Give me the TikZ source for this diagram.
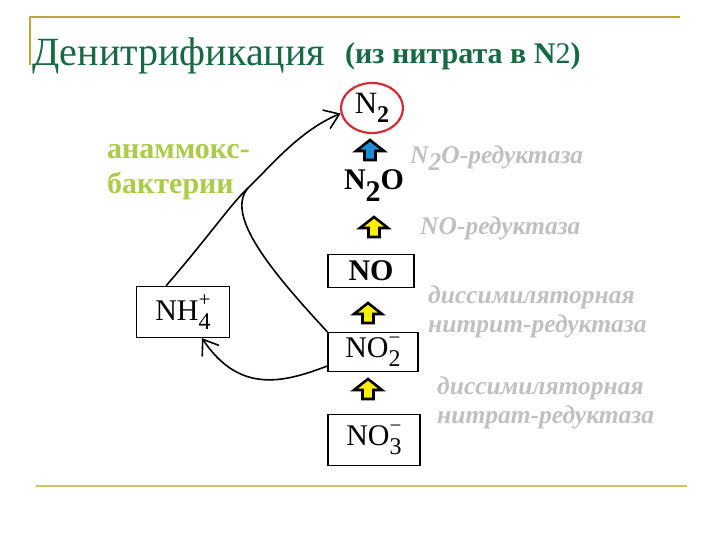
\documentclass[tikz,border=0pt]{standalone}
\usepackage{fontspec}
\setmainfont{Liberation Serif}
\usepackage{graphicx}
\usepackage{tikz}
\usetikzlibrary{arrows.meta,shapes.geometric}
\definecolor{titlegreen}{RGB}{22,105,68}
\definecolor{rulegold}{RGB}{188,168,62}
\definecolor{rulelow}{RGB}{205,195,95}
\definecolor{enzgray}{RGB}{192,192,192}
\definecolor{anagreen}{RGB}{170,204,72}
\definecolor{circred}{RGB}{212,45,55}
\definecolor{arwblue}{RGB}{30,140,210}
\definecolor{arwyellow}{RGB}{250,238,0}
\newcommand{\arw}{-{Straight Barb[length=14pt,width=20pt]}}
\newcommand{\fsz}[1]{\fontsize{#1}{#1}\selectfont}
\newcommand{\ion}[3]{#1\rlap{\raisebox{.45em}{\fsz{21}#3}}\raisebox{-.3em}{\fsz{24}#2}}

\begin{document}
\begin{tikzpicture}[x=1pt,y=-1pt,
  species/.style={draw,line width=1.3pt,inner sep=0pt,font=\fsz{30}},
  enzyme/.style={anchor=west,text=enzgray,font=\fontsize{25.5}{29}\selectfont\bfseries\itshape,
    align=left,inner sep=0pt},
  curve/.style={line width=1.6pt},
  blockup/.pic={\path[pic actions,draw=black,line width=2.6pt,line join=miter]
    (-5.5,10) -- (-5.5,1) -- (-14,1) -- (0,-10) -- (14,1) -- (5.5,1) -- (5.5,10) -- cycle;}]
\useasboundingbox (0,0) rectangle (720,540);
%title and rules
\draw[rulegold,line width=1.5pt] (30,65) -- (30,17) -- (680,17);
\draw[rulelow,line width=2pt] (36,486) -- (687,486);
\node[anchor=base west,inner sep=0pt,text=titlegreen,font=\fsz{40}] (title) at (32,66) {Денитрификация};
\node[anchor=base west,inner sep=0pt,text=titlegreen,font=\fsz{30}\bfseries] (subtitle) at (345,64)
  {(из нитрата в N{\mdseries 2})};
%nitrogen species
\node[ellipse,draw=circred,line width=2.2pt,minimum width=62pt,minimum height=50pt,inner sep=0pt,
  font=\fsz{31}] (n2) at (372,108) {\ion{N}{\bfseries 2}{}};
\node[inner sep=0pt,font=\fsz{30}\bfseries] (n2o) at (374,186) {N\raisebox{-.4em}{2}O};
\node[species,minimum width=86pt,minimum height=33pt,font=\fsz{30}\bfseries] (no) at (371,271) {NO};
\node[species,minimum width=90pt,minimum height=39pt] (no2) at (373,352) {\ion{NO}{2}{−}};
\node[species,minimum width=92pt,minimum height=51pt] (no3) at (374,440) {\ion{NO}{3}{−}};
\node[species,minimum width=93pt,minimum height=51pt] (nh4) at (183,312) {\ion{NH}{4}{+}};
%reduction steps
\pic[fill=arwblue] (s1) at (370,150) {blockup};
\pic[fill=arwyellow] (s2) at (374,227) {blockup};
\pic[fill=arwyellow] (s3) at (368,313) {blockup};
\pic[fill=arwyellow] (s4) at (368,389) {blockup};
\node[enzyme] (e1) at (410,158) {N\raisebox{-.3em}{2}O-редуктаза};
\node[enzyme] (e2) at (420,228) {NO-редуктаза};
\node[enzyme] (e3) at (428,312) {диссимиляторная\\нитрит-редуктаза};
\node[enzyme] (e4) at (437,403) {диссимиляторная\\нитрат-редуктаза};
%anammox
\node[anchor=west,inner sep=0pt,text=anagreen,font=\fontsize{30}{35}\selectfont\bfseries,
  align=left] (ana) at (107,172) {анаммокс-\\бактерии};
\coordinate (merge) at (248,188);
\draw[curve,\arw] ([xshift=-17pt]nh4.north) .. controls (210,235) and (230,205) .. (merge)
  .. controls (270,167) and (300,130) .. (n2.190);
\draw[curve] (no2.north west) .. controls (270,270) and (225,215) .. (merge);
\draw[curve,\arw] ([yshift=-14pt]no2.west) .. controls (285,382) and (240,395) .. ([xshift=19pt]nh4.south);
\end{tikzpicture}
\end{document}
